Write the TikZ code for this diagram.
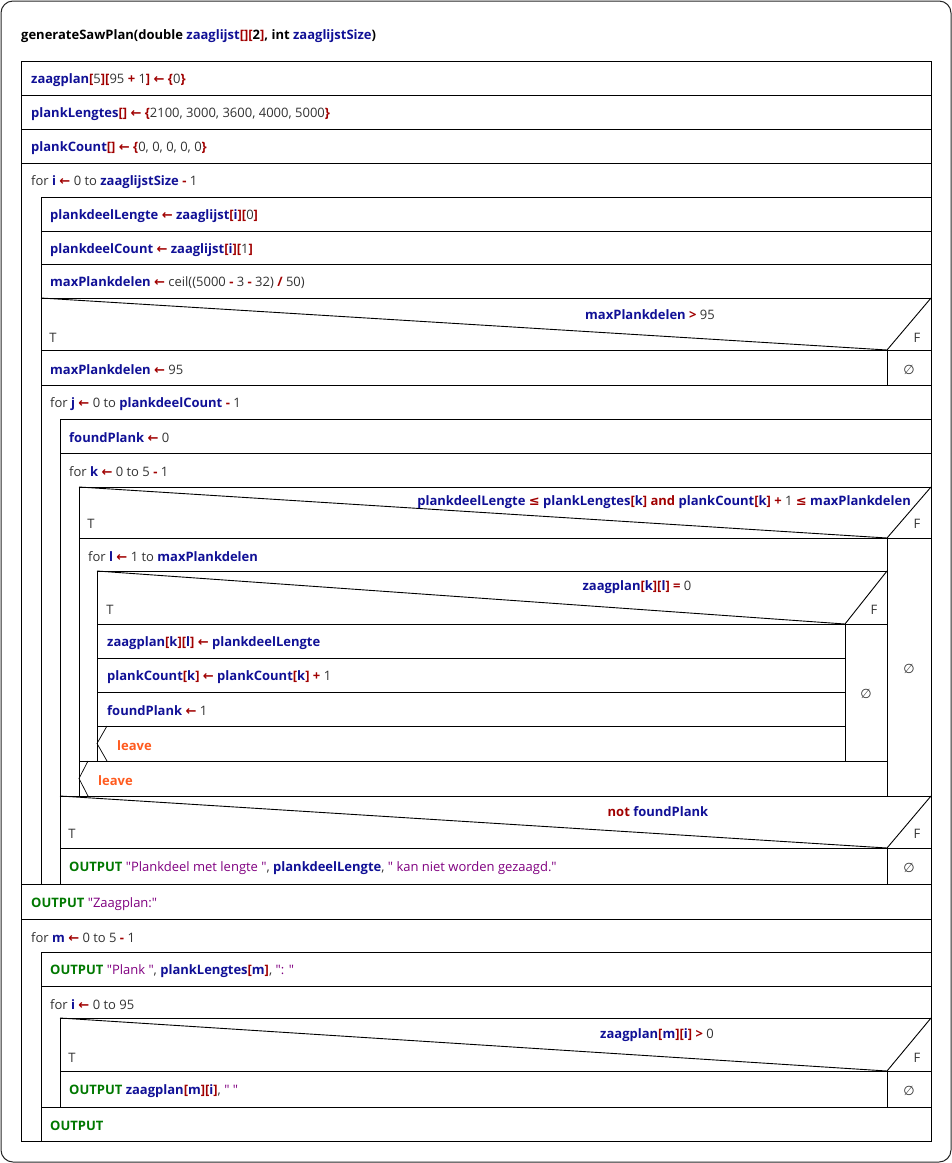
\documentclass[tikz,border=0pt]{standalone}
\usepackage{fontspec}
\setmainfont{Open Sans}
\newfontfamily\symfont{DejaVu Sans}
\definecolor{cvar}{RGB}{16,16,150}
\definecolor{cop}{RGB}{160,0,0}
\definecolor{cnum}{RGB}{50,50,50}
\definecolor{cstr}{RGB}{128,0,128}
\definecolor{cout}{RGB}{0,120,0}
\definecolor{cleave}{RGB}{255,90,30}
\newcommand\nsv[1]{\textbf{\color{cvar}#1}}
\newcommand\nso[1]{\textbf{\color{cop}#1}}
\newcommand\nsn[1]{{\color{cnum}#1}}
\newcommand\nss[1]{{\color{cstr}#1}}
\newcommand\nsk[1]{\textbf{\color{cout}#1}}
\newcommand\nsq{\textquotedbl}
\newcommand\nsarr{{\symfont\bfseries\color{cop}←}}
\newcommand\nsle{{\symfont\bfseries\color{cop}≤}}
\newcommand\nsempty{{\symfont\color{cnum}∅}}
\tikzset{
  cell/.style={draw=black, line width=0.9pt},
  txt/.style={anchor=west, inner sep=0pt, yshift=-2pt, font=\fontsize{13}{15}\selectfont},
  mid/.style={anchor=center, inner sep=0pt, yshift=-2pt, font=\fontsize{13}{15}\selectfont},
  lv/.style={anchor=west, inner sep=0pt, yshift=-2pt, font=\fontsize{13}{15}\selectfont\bfseries, text=cleave},
}
\begin{document}
\begin{tikzpicture}[x=1pt, y=-1pt]
\useasboundingbox (0,0) rectangle (952,1163);
% frame
\draw[line width=1pt, draw=black!85, rounded corners=12pt] (1,1) rectangle (951,1162);
\node[txt] (title) at (21,34) {\textbf{generateSawPlan(double \nsv{zaaglijst}\nso{[][}2\nso{]}, int \nsv{zaaglijstSize})}};

% ---- top-level statements
\draw[cell] (21,61) rectangle (931,95);
\node[txt] (s1) at (31,78) {\nsv{zaagplan}\nso{[}\nsn{5}\nso{][}\nsn{95} \nso{+} \nsn{1}\nso{]} \nsarr\ \nso{\{}\nsn{0}\nso{\}}};
\draw[cell] (21,95) rectangle (931,129);
\node[txt] (s2) at (31,112) {\nsv{plankLengtes}\nso{[]} \nsarr\ \nso{\{}\nsn{2100, 3000, 3600, 4000, 5000}\nso{\}}};
\draw[cell] (21,129) rectangle (931,163);
\node[txt] (s3) at (31,146) {\nsv{plankCount}\nso{[]} \nsarr\ \nso{\{}\nsn{0, 0, 0, 0, 0}\nso{\}}};

% ---- for i
\draw[cell] (21,163) rectangle (931,884);
\node[txt] (fori) at (31,180) {\nsn{for} \nsv{i} \nsarr\ \nsn{0 to} \nsv{zaaglijstSize} \nso{-} \nsn{1}};
\draw[cell] (41,197) rectangle (931,231);
\node[txt] (s4) at (50,214) {\nsv{plankdeelLengte} \nsarr\ \nsv{zaaglijst}\nso{[}\nsv{i}\nso{][}\nsn{0}\nso{]}};
\draw[cell] (41,231) rectangle (931,264);
\node[txt] (s5) at (50,248) {\nsv{plankdeelCount} \nsarr\ \nsv{zaaglijst}\nso{[}\nsv{i}\nso{][}\nsn{1}\nso{]}};
\draw[cell] (41,264) rectangle (931,298);
\node[txt] (s6) at (50,281) {\nsv{maxPlankdelen} \nsarr\ \nsn{ceil((5000} \nso{-} \nsn{3} \nso{-} \nsn{32)} \nso{/} \nsn{50)}};

% if maxPlankdelen > 95
\draw[cell] (41,298) rectangle (931,350);
\draw[cell] (41,298) -- (887,350) -- (931,298);
\node[mid] (c1) at (650,313) {\nsv{maxPlankdelen} \nso{>} \nsn{95}};
\node[mid] (c1t) at (53,336) {\nsn{T}};
\node[mid] (c1f) at (917,336) {\nsn{F}};
\draw[cell] (41,350) rectangle (887,385);
\node[txt] (s7) at (50,368) {\nsv{maxPlankdelen} \nsarr\ \nsn{95}};
\draw[cell] (887,350) rectangle (931,385);
\node[mid] (e1) at (909,368) {\nsempty};

% ---- for j
\draw[cell] (41,385) rectangle (931,884);
\node[txt] (forj) at (50,402) {\nsn{for} \nsv{j} \nsarr\ \nsn{0 to} \nsv{plankdeelCount} \nso{-} \nsn{1}};
\draw[cell] (60,419) rectangle (931,453);
\node[txt] (s8) at (69,436) {\nsv{foundPlank} \nsarr\ \nsn{0}};

% ---- for k
\draw[cell] (60,453) rectangle (931,796);
\node[txt] (fork) at (69,470) {\nsn{for} \nsv{k} \nsarr\ \nsn{0 to 5} \nso{-} \nsn{1}};
\draw[cell] (79,487) rectangle (931,538);
\draw[cell] (79,487) -- (887,538) -- (931,487);
\node[mid, anchor=east] (c2) at (911,500) {\nsv{plankdeelLengte} \nsle\ \nsv{plankLengtes}\nso{[}\nsv{k}\nso{]} \nso{and} \nsv{plankCount}\nso{[}\nsv{k}\nso{]} \nso{+} \nsn{1} \nsle\ \nsv{maxPlankdelen}};
\node[mid] (c2t) at (91,522) {\nsn{T}};
\node[mid] (c2f) at (917,522) {\nsn{F}};
\draw[cell] (79,538) rectangle (887,796);
\draw[cell] (887,538) rectangle (931,796);
\node[mid] (e2) at (909,667) {\nsempty};

% ---- for l
\draw[cell] (79,538) rectangle (887,761);
\node[txt] (forl) at (88,555) {\nsn{for} \nsv{l} \nsarr\ \nsn{1 to} \nsv{maxPlankdelen}};
\draw[cell] (97,571) rectangle (887,624);
\draw[cell] (97,571) -- (845,624) -- (887,571);
\node[mid] (c3) at (637,585) {\nsv{zaagplan}\nso{[}\nsv{k}\nso{][}\nsv{l}\nso{]} \nso{=} \nsn{0}};
\node[mid] (c3t) at (110,608) {\nsn{T}};
\node[mid] (c3f) at (874,608) {\nsn{F}};
\draw[cell] (97,624) rectangle (845,658);
\node[txt] (s9) at (107,641) {\nsv{zaagplan}\nso{[}\nsv{k}\nso{][}\nsv{l}\nso{]} \nsarr\ \nsv{plankdeelLengte}};
\draw[cell] (97,658) rectangle (845,692);
\node[txt] (s10) at (107,675) {\nsv{plankCount}\nso{[}\nsv{k}\nso{]} \nsarr\ \nsv{plankCount}\nso{[}\nsv{k}\nso{]} \nso{+} \nsn{1}};
\draw[cell] (97,692) rectangle (845,726);
\node[txt] (s11) at (107,709) {\nsv{foundPlank} \nsarr\ \nsn{1}};
\draw[cell] (97,726) rectangle (845,761);
\draw[cell, line width=0.7pt] (107,726) -- (97,743.5) -- (107,761);
\node[lv] (lv1) at (117,744) {leave};
\draw[cell] (845,624) rectangle (887,761);
\node[mid] (e3) at (866,692) {\nsempty};

% leave for k
\draw[cell] (79,761) rectangle (887,796);
\draw[cell, line width=0.7pt] (88,761) -- (79,778.5) -- (88,796);
\node[lv] (lv2) at (98,779) {leave};

% if not foundPlank
\draw[cell] (60,796) rectangle (931,848);
\draw[cell] (60,796) -- (887,848) -- (931,796);
\node[mid] (c4) at (658,810) {\nso{not} \nsv{foundPlank}};
\node[mid] (c4t) at (72,832) {\nsn{T}};
\node[mid] (c4f) at (917,832) {\nsn{F}};
\draw[cell] (60,848) rectangle (887,884);
\node[txt] (s12) at (69,866) {\nsk{OUTPUT} \nss{\nsq Plankdeel met lengte \nsq}\nsn{,} \nsv{plankdeelLengte}\nsn{,} \nss{\nsq\ kan niet worden gezaagd.\nsq}};
\draw[cell] (887,848) rectangle (931,884);
\node[mid] (e4) at (909,866) {\nsempty};

% ---- after the loop
\draw[cell] (21,884) rectangle (931,919);
\node[txt] (s13) at (31,902) {\nsk{OUTPUT} \nss{\nsq Zaagplan:\nsq}};

% ---- for m
\draw[cell] (21,919) rectangle (931,1141);
\node[txt] (form) at (31,936) {\nsn{for} \nsv{m} \nsarr\ \nsn{0 to 5} \nso{-} \nsn{1}};
\draw[cell] (41,952) rectangle (931,986);
\node[txt] (s14) at (50,969) {\nsk{OUTPUT} \nss{\nsq Plank \nsq}\nsn{,} \nsv{plankLengtes}\nso{[}\nsv{m}\nso{]}\nsn{,} \nss{\nsq: \nsq}};
\draw[cell] (41,986) rectangle (931,1107);
\node[txt] (fori2) at (50,1003) {\nsn{for} \nsv{i} \nsarr\ \nsn{0 to 95}};
\draw[cell] (60,1018) rectangle (931,1071);
\draw[cell] (60,1018) -- (887,1071) -- (931,1018);
\node[mid] (c5) at (657,1033) {\nsv{zaagplan}\nso{[}\nsv{m}\nso{][}\nsv{i}\nso{]} \nso{>} \nsn{0}};
\node[mid] (c5t) at (72,1056) {\nsn{T}};
\node[mid] (c5f) at (917,1056) {\nsn{F}};
\draw[cell] (60,1071) rectangle (887,1107);
\node[txt] (s15) at (69,1089) {\nsk{OUTPUT} \nsv{zaagplan}\nso{[}\nsv{m}\nso{][}\nsv{i}\nso{]}\nsn{,} \nss{\nsq\ \nsq}};
\draw[cell] (887,1071) rectangle (931,1107);
\node[mid] (e5) at (909,1089) {\nsempty};
\draw[cell] (41,1107) rectangle (931,1141);
\node[txt] (s16) at (50,1124) {\nsk{OUTPUT}};
\end{tikzpicture}
\end{document}
